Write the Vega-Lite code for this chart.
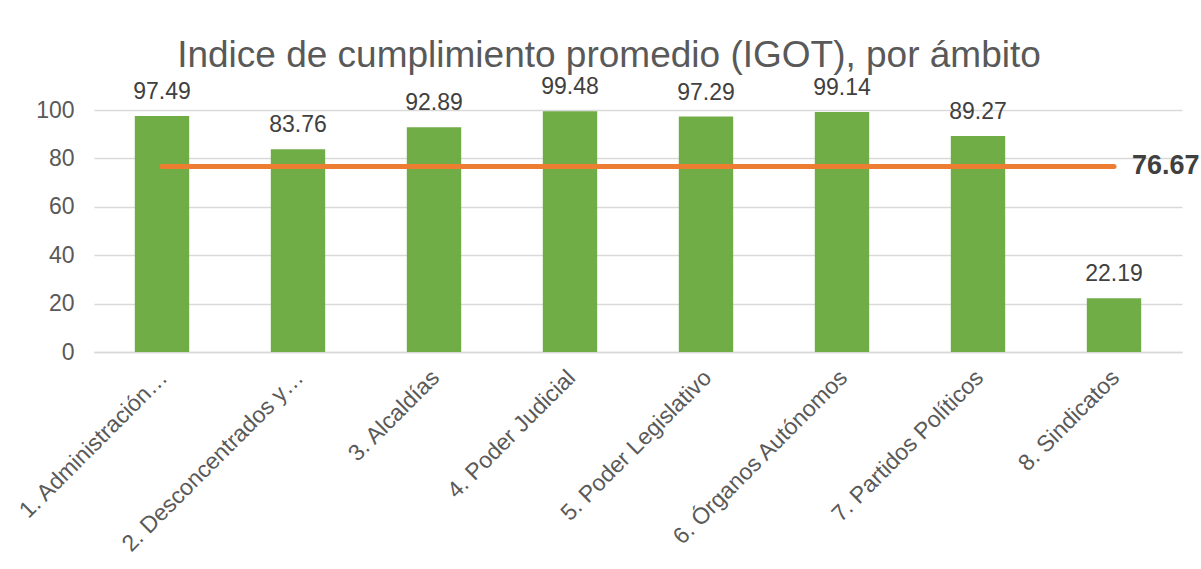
{
  "$schema": "https://vega.github.io/schema/vega-lite/v6.json",
  "width": 1088,
  "height": 242,
  "autosize": {"type": "none"},
  "padding": {"left": 94, "top": 110, "right": 19, "bottom": 217},
  "background": "white",
  "title": {
    "text": "Indice de cumplimiento promedio (IGOT), por ámbito",
    "fontSize": 37,
    "font": "Liberation Sans",
    "fontWeight": "normal",
    "color": "#595959",
    "frame": "group",
    "anchor": "middle",
    "dx": -29,
    "offset": 1
  },
  "config": {
    "view": {"stroke": null},
    "font": "Liberation Sans"
  },
  "data": {
    "values": [
      {"ambito": "1. Administración…", "indice": 97.49, "promedio": 76.67},
      {"ambito": "2. Desconcentrados y…", "indice": 83.76, "promedio": 76.67},
      {"ambito": "3. Alcaldías", "indice": 92.89, "promedio": 76.67},
      {"ambito": "4. Poder Judicial", "indice": 99.48, "promedio": 76.67},
      {"ambito": "5. Poder Legislativo", "indice": 97.29, "promedio": 76.67},
      {"ambito": "6. Órganos Autónomos", "indice": 99.14, "promedio": 76.67},
      {"ambito": "7. Partidos Políticos", "indice": 89.27, "promedio": 76.67},
      {"ambito": "8. Sindicatos", "indice": 22.19, "promedio": 76.67}
    ]
  },
  "encoding": {
    "x": {
      "field": "ambito",
      "type": "nominal",
      "sort": null,
      "scale": {"paddingInner": 0.6, "paddingOuter": 0.3},
      "axis": {
        "title": null,
        "labelAngle": -45,
        "labelAlign": "right",
        "labelBaseline": "top",
        "labelPadding": 14,
        "labelOffset": -6,
        "labelFontSize": 23,
        "labelColor": "#595959",
        "labelLimit": 0,
        "ticks": false,
        "domainColor": "#D9D9D9",
        "domainWidth": 1.3
      }
    }
  },
  "layer": [
    {
      "mark": {"type": "bar", "color": "#70AD47"},
      "encoding": {
        "y": {
          "field": "indice",
          "type": "quantitative",
          "scale": {"domain": [0, 100]},
          "axis": {
            "title": null,
            "values": [0, 20, 40, 60, 80, 100],
            "domain": false,
            "ticks": false,
            "grid": true,
            "gridColor": "#D9D9D9",
            "gridWidth": 1.3,
            "labelFontSize": 23,
            "labelColor": "#595959",
            "labelPadding": 20
          }
        }
      }
    },
    {
      "mark": {"type": "text", "baseline": "alphabetic", "dy": -17, "fontSize": 23, "color": "#404040"},
      "encoding": {
        "y": {"field": "indice", "type": "quantitative"},
        "text": {"field": "indice", "type": "quantitative", "format": ".2f"}
      }
    },
    {
      "mark": {"type": "line", "color": "#ED7D31", "strokeWidth": 5, "strokeCap": "round"},
      "encoding": {
        "y": {"field": "promedio", "type": "quantitative"}
      }
    },
    {
      "transform": [{"filter": "datum.ambito == '8. Sindicatos'"}],
      "mark": {"type": "text", "align": "left", "baseline": "middle", "dx": 18, "fontSize": 27, "fontWeight": "bold", "color": "#404040"},
      "encoding": {
        "y": {"field": "promedio", "type": "quantitative"},
        "text": {"field": "promedio", "type": "quantitative", "format": ".2f"}
      }
    }
  ]
}
